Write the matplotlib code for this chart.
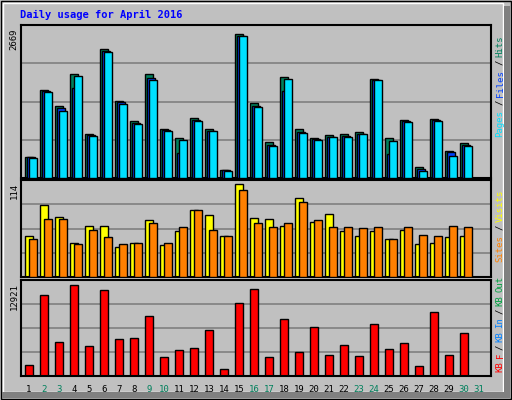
import matplotlib
matplotlib.use("Agg")
import matplotlib.pyplot as plt
from matplotlib.patches import Rectangle

days = list(range(1, 32))
hits = [381,1586,1287,1873,795,2312,1375,1031,1873,873,715,1083,883,146,2594,1347,644,1821,873,715,767,785,820,1786,715,1048,205,1066,486,627,0]
files = [369,1568,1252,1610,773,2277,1364,996,1803,860,451,1048,838,135,2552,1300,597,1558,831,697,738,750,785,1762,434,1031,163,1048,462,592,0]
pages = [357,1540,1206,1838,750,2260,1329,978,1768,838,680,1031,838,128,2541,1277,574,1786,803,680,732,732,785,1751,662,1013,118,1031,399,574,0]
visits = [51,89,74,42,63,63,37,42,70,39,57,83,76,50,114,73,71,63,97,68,78,57,51,57,47,58,41,42,49,50,0]
sites = [47,71,72,41,58,49,41,42,67,42,61,83,58,50,107,66,61,67,92,70,62,62,60,62,47,61,52,50,63,62,0]
kbytes = [1600,11506,4855,12921,4288,12213,5279,5421,8534,2731,3722,4005,6553,1033,10374,12355,2731,8110,3439,6977,3014,4430,2873,7402,3864,4713,1458,9100,3014,6128,0]
weekend = [2,3,9,10,16,17,23,24,30,31]
title = "Daily usage for April 2016"

W, H = 512, 400
fig = plt.figure(figsize=(W/100, H/100), dpi=100)
fig.patch.set_facecolor("#C0C0C0")
BG = "#C0C0C0"
mono = "DejaVu Sans Mono"

# window frame
fig.add_artist(Rectangle((1/W, 1/H), 1-2/W, 1-2/H, transform=fig.transFigure, fill=False, ec="black", lw=1))
fig.add_artist(Rectangle((3/W, 8/H), 1-12/W, 1-11/H, transform=fig.transFigure, fill=False, ec="white", lw=1))
fig.add_artist(Rectangle((W-8, 2), 6, H-8, transform=None, fc="#808080", ec="none"))
fig.add_artist(Rectangle((2, 2), W-8, 6, transform=None, fc="#808080", ec="none"))

fig.text(20/W, 1-15/H, title, color="#0000FF", fontsize=7.5, fontweight="bold", family=mono, va="center", ha="left")

x0, x1 = 20.7, 490.7
xlim = (1 - 4.3/15, 1 + (x1 - 25)/15)

def mkax(ytop, ybot):
    ax = fig.add_axes([x0/W, 1-ybot/H, (x1-x0)/W, (ybot-ytop)/H])
    ax.set_facecolor(BG)
    ax.set_xlim(*xlim)
    for s in ax.spines.values():
        s.set_linewidth(1.5); s.set_color("black")
    ax.set_xticks([]); ax.set_yticks([])
    for f in (0.25, 0.5, 0.75):
        ax.plot([0, 1], [f, f], color="#808080", lw=1.2, zorder=0, transform=ax.transAxes)
    return ax

u = 1/15
ax1 = mkax(25, 178)
ax1.set_ylim(0, 2669*152/147.7)
ax1.bar([d for d in days], hits, width=8*u, align="edge", color="#00805C", ec="black", lw=1, zorder=2)
ax1.bar([d+2*u for d in days], files, width=8*u, align="edge", color="#0040FF", ec="black", lw=1, zorder=3)
ax1.bar([d+3.5*u for d in days], pages, width=8.2*u, align="edge", color="#00E0FF", ec="black", lw=1, zorder=4)

ax2 = mkax(180, 277)
ax2.set_ylim(0, 114*96.7/92.3)
ax2.bar(days, visits, width=8.4*u, align="edge", color="#FFFF00", ec="black", lw=1, zorder=2)
ax2.bar([d+4*u for d in days], sites, width=7.6*u, align="edge", color="#FF8000", ec="black", lw=1, zorder=3)

ax3 = mkax(280, 376)
ax3.set_ylim(0, 12921*96/91.3)
ax3.bar([d+0.3*u for d in days], kbytes, width=7.3*u, align="edge", color="#FF0000", ec="black", lw=1, zorder=2)

for d in days:
    xp = (25 + 15*(d-1) + 4) / W
    fig.text(xp, 1-389/H, str(d), ha="center", va="center", fontsize=6.5, family=mono,
             color="#00805C" if d in weekend else "black")

for txt, yt in (("2669", 28), ("114", 183), ("12921", 283)):
    fig.text(14/W, 1-yt/H, txt, rotation=90, ha="center", va="top", fontsize=6.5, family=mono)

def side(parts, ybottom):
    y = ybottom
    for word, col in parts:
        fig.text(500/W, 1-y/H, word, rotation=90, ha="center", va="bottom", fontsize=6.5, family=mono, color=col)
        y -= 6.0 * len(word) + 2
side([("Pages", "#00E0FF"), ("/", "black"), ("Files", "#0040FF"), ("/", "black"), ("Hits", "#00805C")], 137)
side([("Sites", "#FF8000"), ("/", "black"), ("Visits", "#FFFF00")], 262)
side([("KB", "#FF0000"), ("F", "#FF0000"), ("/", "black"), ("KB", "#0080FF"), ("In", "#0080FF"), ("/", "black"), ("KB", "#00A040"), ("Out", "#00A040")], 372)

fig.savefig("out.png", dpi=100, facecolor=fig.get_facecolor())
